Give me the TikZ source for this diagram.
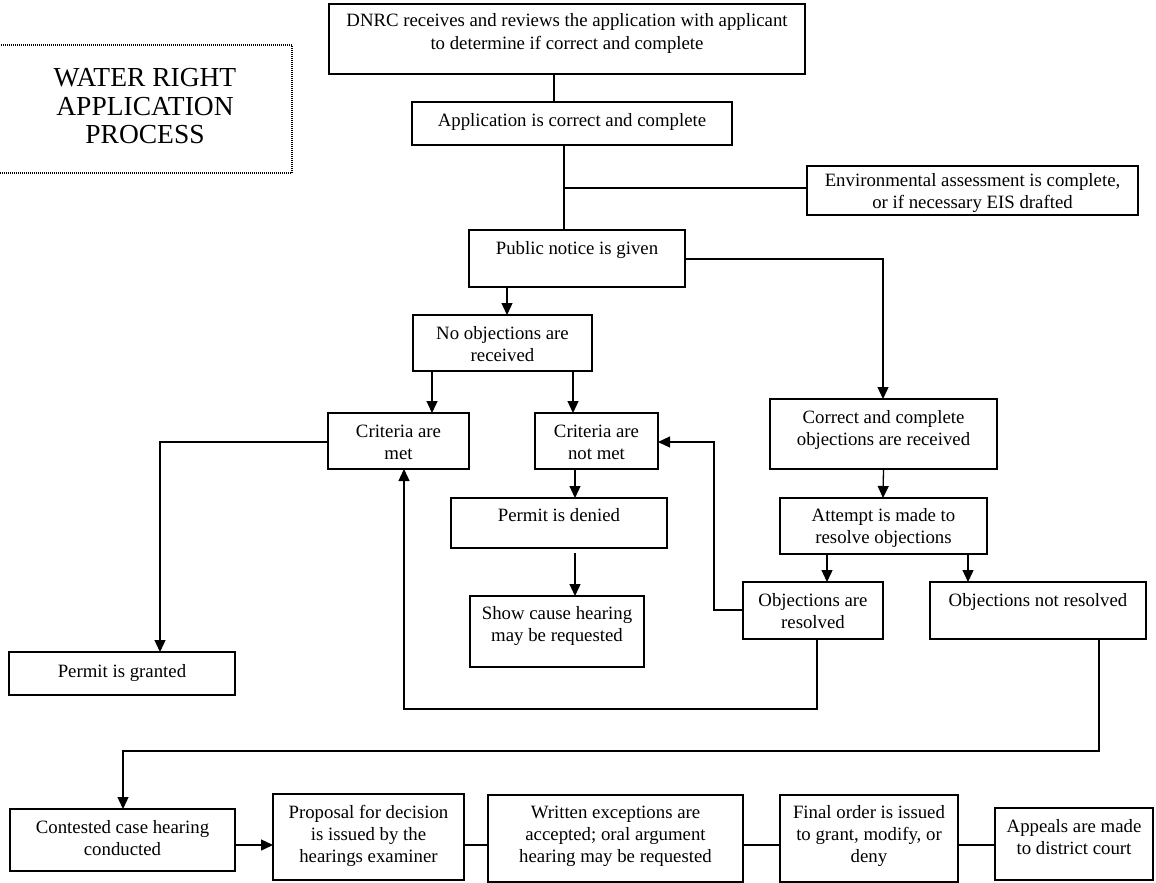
\documentclass[tikz,border=0pt]{standalone}
\usepackage{fontspec}
\setmainfont{Liberation Serif}
\usetikzlibrary{arrows.meta}
\newcommand\bxnode[8][]{%
  \node[box,#1] (#2) at (#3,#4) {\parbox[c][#6pt][t]{#5pt}{\centering\vspace*{#7pt}\strut #8\par}};}
\begin{document}
\begin{tikzpicture}[x=1pt,y=-1pt,
  font=\fontsize{18.8}{22}\selectfont,
  box/.style={draw, line width=1.4pt, inner sep=0pt, outer sep=0pt, anchor=north west},
  titlebox/.style={line width=1.1pt, dash pattern=on 1pt off 1pt, font=\fontsize{27.5}{28.5}\selectfont},
  conn/.style={draw, line width=1.3pt},
  arr/.style={conn, -{Triangle[length=12pt,width=11pt]}}]
\useasboundingbox (0,0) rectangle (1156,883);

% boxes
\bxnode[titlebox]{title}{-2}{45}{294}{128}{22}{WATER RIGHT\\APPLICATION\\PROCESS}
\bxnode{dnrc}{329}{4}{476}{70}{7.6}{DNRC receives and reviews the application with applicant\\to determine if correct and complete}
\bxnode{app}{412}{102}{320}{43}{8.6}{Application is correct and complete}
\bxnode{env}{807}{166}{331}{49}{4.6}{Environmental assessment is complete,\\or if necessary EIS drafted}
\bxnode{pn}{469}{230}{216}{57}{8.6}{Public notice is given}
\bxnode{noobj}{413}{315}{179}{56}{8.6}{No objections are\\received}
\bxnode{met}{328}{413}{141}{56}{8.6}{Criteria are\\met}
\bxnode{notmet}{535}{413}{123}{56}{8.6}{Criteria are\\not met}
\bxnode{granted}{9}{652}{226}{43}{9.6}{Permit is granted}
\bxnode{denied}{451}{498}{216}{50}{7.6}{Permit is denied}
\bxnode{show}{470}{596}{174}{71}{7.6}{Show cause hearing\\may be requested}
\bxnode{correct}{770}{399}{227}{70}{8.6}{Correct and complete\\objections are received}
\bxnode{attempt}{780}{498}{207}{56}{7.6}{Attempt is made to\\resolve objections}
\bxnode{resolved}{743}{582}{140}{57}{8.6}{Objections are\\resolved}
\bxnode{notres}{930}{582}{216}{57}{8.6}{Objections not resolved}
\bxnode{contested}{10}{809}{225}{62}{8.6}{Contested case hearing\\conducted}
\bxnode{proposal}{273}{794}{191}{86}{8.6}{Proposal for decision\\is issued by the\\hearings examiner}
\bxnode{written}{488}{795}{255}{87}{7.6}{Written exceptions are\\accepted; oral argument\\hearing may be requested}
\bxnode{final}{780}{795}{178}{87}{7.6}{Final order is issued\\to grant, modify, or\\deny}
\bxnode{appeals}{995}{808}{158}{72}{8.6}{Appeals are made\\to district court}

% helper coordinates
\coordinate (xa) at (554,0);
\coordinate (xb) at (564,0);
\coordinate (jn) at (564,188);
\coordinate (xc) at (883,259);
\coordinate (xd) at (507,0);
\coordinate (xn1) at (432,0);
\coordinate (xn2) at (573,0);
\coordinate (xe) at (160,442);
\coordinate (xden) at (575,0);
\coordinate (xat1) at (827,0);
\coordinate (xat2) at (968,0);
\coordinate (xf) at (714,610);
\coordinate (xg) at (714,442);
\coordinate (xh) at (817,709);
\coordinate (xi) at (404,709);
\coordinate (xj) at (1099,751);
\coordinate (xk) at (123,751);
\coordinate (yb) at (0,845);

% connectors
\draw[conn] (dnrc.south -| xa) -- (app.north -| xa);
\draw[conn] (app.south -| xb) -- (pn.north -| xb);
\draw[conn] (jn) -- (env.west |- jn);
\draw[arr] (pn.east |- xc) -- (xc) -- (correct.north -| xc);
\draw[arr] (pn.south -| xd) -- (noobj.north -| xd);
\draw[arr] (noobj.south -| xn1) -- (met.north -| xn1);
\draw[arr] (noobj.south -| xn2) -- (notmet.north -| xn2);
\draw[arr] (met.west |- xe) -- (xe) -- (granted.north -| xe);
\draw[arr] (notmet.south -| xden) -- (denied.north -| xden);
\draw[arr] (denied.south -| xden) ++(0,5) -- (show.north -| xden);
\draw[arr] (correct.south) ++(0,0) -- (attempt.north -| xc);
\draw[arr] (attempt.south -| xat1) -- (resolved.north -| xat1);
\draw[arr] (attempt.south -| xat2) -- (notres.north -| xat2);
\draw[arr] (resolved.west |- xf) -- (xf) -- (xg) -- (notmet.east |- xg);
\draw[arr] (resolved.south -| xh) -- (xh) -- (xi) -- (met.south -| xi);
\draw[arr] (notres.south -| xj) -- (xj) -- (xk) -- (contested.north -| xk);
\draw[arr] (contested.east |- yb) -- (proposal.west |- yb);
\draw[conn] (proposal.east |- yb) -- (written.west |- yb);
\draw[conn] (written.east |- yb) -- (final.west |- yb);
\draw[conn] (final.east |- yb) -- (appeals.west |- yb);
\end{tikzpicture}
\end{document}
